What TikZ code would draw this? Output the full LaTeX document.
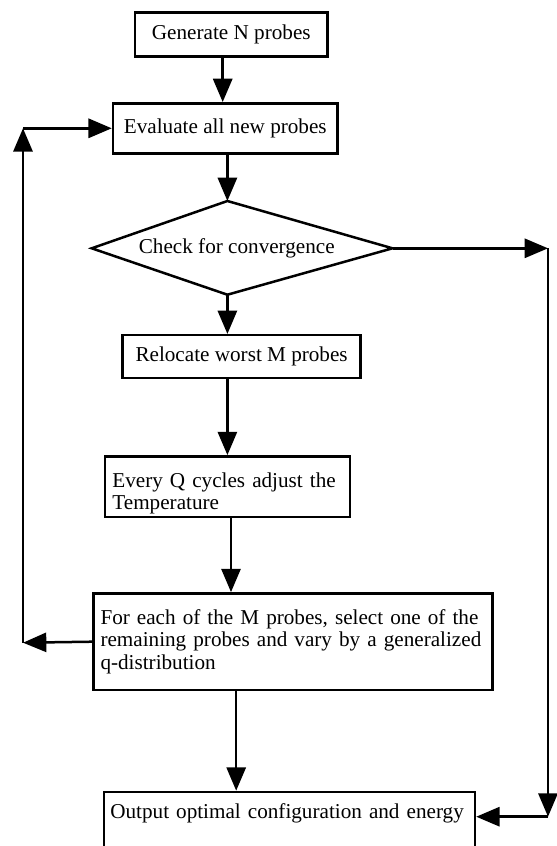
\documentclass[tikz,border=0pt]{standalone}
\usepackage{fontspec}
\setmainfont{Liberation Serif}
\usetikzlibrary{arrows.meta}

\begin{document}
\begin{tikzpicture}[x=0.6pt,y=-0.6pt,
    box/.style={draw,line width=1.5pt,inner sep=0pt,font=\fontsize{12.7}{13.3}\selectfont},
    flow/.style={line width=1.5pt,-{Triangle[length=14pt,width=11.5pt]}}]
\useasboundingbox (0,0) rectangle (557,846);

\node[box,minimum width=115.5pt,minimum height=26.4pt] (gen) at (231.3,34.7) {Generate N probes};
\node[box,minimum width=134.7pt,minimum height=30pt] (eval) at (225.3,128.3) {Evaluate all new probes};

% convergence test
\coordinate (dtop) at (227.4,201);
\coordinate (dleft) at (91.7,248.3);
\coordinate (dright) at (392.5,248.3);
\coordinate (dbot) at (227.4,294.7);
\draw[line width=1.5pt] (dtop) -- (dright) -- (dbot) -- (dleft) -- cycle;
\node[font=\fontsize{12.7}{13.3}\selectfont] (check) at (236.8,248) {Check for convergence};

\node[box,minimum width=142.8pt,minimum height=25.8pt] (reloc) at (241.6,356.7) {Relocate worst M probes};
\node[box,text width=138pt,inner xsep=4.55pt,text height=18.4pt,text depth=18pt,align=left] (adjust) at (227.4,486.7)
  {Every Q cycles adjust the\\Temperature};
\node[box,text width=231pt,inner xsep=4.3pt,minimum height=58pt,align=left] (vary) at (293,641.7)
  {For each of the M probes, select one of the\\remaining probes and vary by a generalized\\q-distribution};
\node[box,anchor=north,text width=215pt,inner xsep=3.8pt,inner ysep=7pt,text depth=40pt,align=left] (out) at (289.5,790.7)
  {Output optimal configuration and energy};

% main line
\coordinate (c1) at (222.7,0);
\coordinate (c5) at (231,0);
\coordinate (c6) at (236.2,0);
\draw[flow] (gen.south -| c1) -- (eval.north -| c1);
\draw[flow] (eval.south -| dtop) -- (dtop);
\draw[flow] (dbot) -- (reloc.north -| dbot);
\draw[flow] (reloc.south -| dbot) -- (adjust.north -| dbot);
\draw[flow] (adjust.south -| c5) -- (vary.north -| c5);
\draw[flow] (vary.south -| c6) -- (out.north -| c6);

% loop back
\coordinate (lb) at (23,642.7);
\coordinate (lt) at (lb |- eval.west);
\draw[flow] (vary.west) -- (lb);
\draw[flow] (lb) -- (lt);
\draw[flow] (lt) -- (eval.west);

% converged
\coordinate (rt) at (548,248.3);
\coordinate (rb) at (548,816.7);
\draw[flow] (dright) -- (rt);
\draw[flow] (rt) -- (rb);
\draw[flow] (rb) -- (rb -| out.east);
\end{tikzpicture}
\end{document}
